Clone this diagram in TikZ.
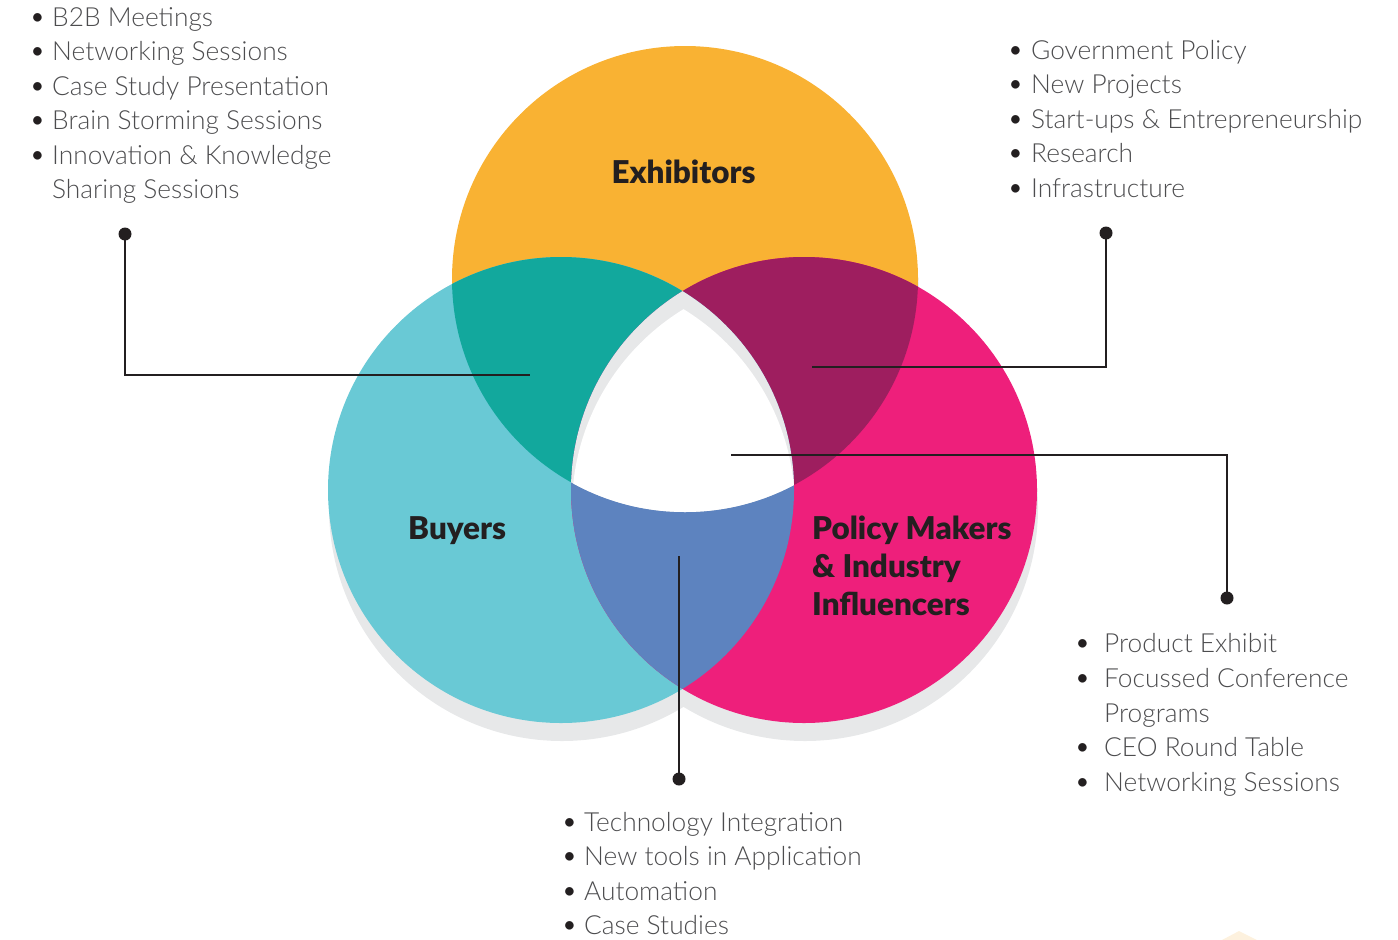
\documentclass[tikz,border=0pt]{standalone}
\usepackage{fontspec}
\setmainfont{Lato}
\newfontfamily\lightfont{Lato Light}
\newfontfamily\heavyfont{Lato Black}
\definecolor{orangeC}{HTML}{F9B233}
\definecolor{cyanC}{HTML}{69C9D5}
\definecolor{pinkC}{HTML}{EE1F7B}
\definecolor{tealC}{HTML}{12A89D}
\definecolor{purpleC}{HTML}{9E1E5F}
\definecolor{blueC}{HTML}{5D83BF}
\definecolor{shadowC}{HTML}{E7E8E9}
\definecolor{inkC}{HTML}{231F20}
\definecolor{listC}{HTML}{4D4D4F}
\definecolor{creamC}{HTML}{FDF1DE}
\tikzset{
  listbox/.style={anchor=base west, inner sep=0pt, text=listC, font=\lightfont\fontsize{26.3}{34.4}\selectfont},
  bigbox/.style={anchor=base west, inner sep=0pt, text=inkC, font=\heavyfont\fontsize{31.4}{38}\selectfont},
  leader/.style={draw=inkC, line width=2pt},
  dotmark/.style={fill=inkC}
}
\newcommand{\bul}[1]{\makebox[#1][l]{\hspace{-2pt}\textcolor{inkC}{\fontsize{29}{29}\selectfont\textbullet}}}
\begin{document}
\begin{tikzpicture}[x=1pt,y=-1pt]
\useasboundingbox (0,0) rectangle (1398,940);
\def\R{233pt}
\coordinate (T) at (685,279);
\coordinate (L) at (561,490);
\coordinate (P) at (804,490);
\coordinate (Ts) at (686,297);
\coordinate (Ls) at (562,508);
\coordinate (Ps) at (805,508);
% shadows
\fill[shadowC] (Ts) circle (\R);
\fill[shadowC] (Ls) circle (\R);
\fill[shadowC] (Ps) circle (\R);
% circles
\fill[orangeC] (T) circle (\R);
\fill[cyanC] (L) circle (\R);
\fill[pinkC] (P) circle (\R);
% pairwise overlaps
\begin{scope}\clip (T) circle (\R); \fill[tealC] (L) circle (\R);\end{scope}
\begin{scope}\clip (T) circle (\R); \fill[purpleC] (P) circle (\R);\end{scope}
\begin{scope}\clip (L) circle (\R); \fill[blueC] (P) circle (\R);\end{scope}
% centre
\begin{scope}\clip (T) circle (\R); \clip (L) circle (\R); \fill[shadowC] (P) circle (\R);\end{scope}
\begin{scope}\clip (T) circle (\R); \clip (Ls) circle (\R); \fill[white] (Ps) circle (\R);\end{scope}
% faint cream mark
\fill[creamC] (1222,940) -- (1239,931) -- (1257,940) -- cycle;
% labels
\node[bigbox, anchor=base] (exh) at (683.5,183) {Exhibitors};
\node[bigbox] (buy) at (408,539) {Buyers};
\node[bigbox, align=left] (pol) at (812,539) {\begin{tabular}[t]{@{}l@{}}Policy Makers\\ \& Industry\\ Influencers\end{tabular}};
% lists
\node[listbox] (l1) at (31,26.5) {\begin{tabular}[t]{@{}l@{}l@{}}
\bul{21pt} & B2B Meetings\\
\bul{21pt} & Networking Sessions\\
\bul{21pt} & Case Study Presentation\\
\bul{21pt} & Brain Storming Sessions\\
\bul{21pt} & Innovation \& Knowledge\\
 & Sharing Sessions
\end{tabular}};
\node[listbox] (l2) at (1009,59.5) {\begin{tabular}[t]{@{}l@{}l@{}}
\bul{22pt} & Government Policy\\
\bul{22pt} & New Projects\\
\bul{22pt} & Start-ups \& Entrepreneurship\\
\bul{22pt} & Research\\
\bul{22pt} & Infrastructure
\end{tabular}};
\node[listbox, font=\lightfont\fontsize{26.3}{34.75}\selectfont] (l3) at (1076,652.5) {\begin{tabular}[t]{@{}l@{}l@{}}
\bul{28pt} & Product Exhibit\\
\bul{28pt} & Focussed Conference\\
 & Programs\\
\bul{28pt} & CEO Round Table\\
\bul{28pt} & Networking Sessions
\end{tabular}};
\node[listbox] (l4) at (563,831.5) {\begin{tabular}[t]{@{}l@{}l@{}}
\bul{21pt} & Technology Integration\\
\bul{21pt} & New tools in Application\\
\bul{21pt} & Automation\\
\bul{21pt} & Case Studies
\end{tabular}};
% connectors
\coordinate (d1) at (125,234); \coordinate (e1) at (530,375);
\coordinate (d2) at (1106,233); \coordinate (e2) at (812,367);
\coordinate (e3) at (731,455); \coordinate (d3) at (1227,598);
\coordinate (e4) at (679,556); \coordinate (d4) at (679,779);
\draw[leader] (d1) |- (e1);
\draw[leader] (d2) |- (e2);
\draw[leader] (e3) -| (d3);
\draw[leader] (e4) -- (d4);
\fill[dotmark] (d1) circle (6.5pt);
\fill[dotmark] (d2) circle (6.5pt);
\fill[dotmark] (d3) circle (6.5pt);
\fill[dotmark] (d4) circle (6.5pt);
\end{tikzpicture}
\end{document}
